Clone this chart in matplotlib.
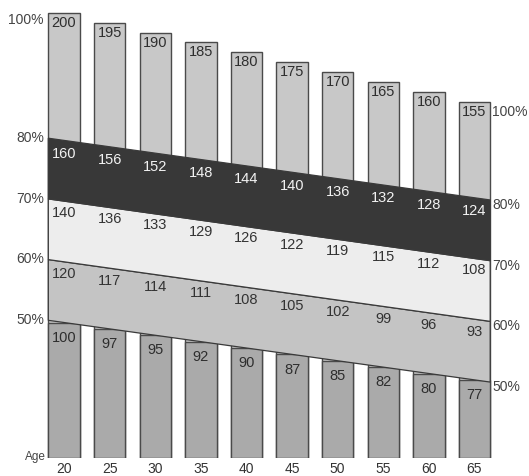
import numpy as np
import matplotlib.pyplot as plt

plt.rcParams['font.family'] = ['Liberation Sans', 'DejaVu Sans']

# Data (beats per minute)
ages = [20, 25, 30, 35, 40, 45, 50, 55, 60, 65]
max_hr = [200, 195, 190, 185, 180, 175, 170, 165, 160, 155]
hr_80 = [160, 156, 152, 148, 144, 140, 136, 132, 128, 124]
hr_70 = [140, 136, 133, 129, 126, 122, 119, 115, 112, 108]
hr_60 = [120, 117, 114, 111, 108, 105, 102, 99, 96, 93]
hr_50 = [100, 97, 95, 92, 90, 87, 85, 82, 80, 77]
zone_pct = [50, 60, 70, 80]

# Drawing geometry (schematic chart: y is "percent of max", tilted with age)
BAND_TILT = 0.21      # drop of the zone lines per year of age
TOP_TILT = 0.3244     # drop of the bar tops per bpm of max heart rate lost
TOP_REF = 101.0
BASE = 27.68
BAR_W = 3.45

ages = np.array(ages)
max_hr = np.array(max_hr)


def zone_line(p, x):
    return p - BAND_TILT * (np.asarray(x) - ages[0])


tops = TOP_REF - TOP_TILT * (max_hr[0] - max_hr)

fig = plt.figure(figsize=(5.29, 4.76), dpi=100)
ax = fig.add_axes([0, 18 / 476, 1, 458 / 476])
ax.set_xlim(12.98, 70.98)
ax.set_ylim(BASE, 103.13)

edge = '#4a4a4a'
# upper (light) bars
ax.bar(ages, tops - BASE, bottom=BASE, width=BAR_W, color='#c8c8c8',
       edgecolor=edge, linewidth=1.0, zorder=1)
# lower (darker) bars up to the 50% line
ax.bar(ages, zone_line(50, ages) - BASE, bottom=BASE, width=BAR_W,
       color='#aaaaaa', edgecolor=edge, linewidth=1.0, zorder=2)

# zone bands
xl, xr = ages[0] - BAR_W / 2, ages[-1] + BAR_W / 2
band_colors = {50: '#c4c4c4', 60: '#ededed', 70: '#383838'}
for lo in [50, 60, 70]:
    hi = lo + 10
    xs = [xl, xr, xr, xl]
    ys = [zone_line(lo, xl), zone_line(lo, xr), zone_line(hi, xr), zone_line(hi, xl)]
    ax.fill(xs, ys, facecolor=band_colors[lo], edgecolor='#3a3a3a',
            linewidth=0.9, zorder=3)

num_kw = dict(ha='center', va='center', fontsize=10.5, zorder=5)

# max HR labels
for a, t, v in zip(ages, tops, max_hr):
    ax.text(a, t - 1.65, str(v), color='#2e2e2e', **num_kw)

# zone labels
zone_rows = [(hr_80, 80, 2.2, '#f2f2f2'), (hr_70, 70, 1.9, '#333333'),
             (hr_60, 60, 2.05, '#333333'), (hr_50, 50, 2.5, '#2e2e2e')]
for vals, p, off, col in zone_rows:
    for a, v in zip(ages, vals):
        ax.text(a, zone_line(p, a) - off, str(v), color=col, **num_kw)

# percent labels, left and right
lab_kw = dict(va='center', fontsize=10, color='#444444')
ax.text(17.8, 99.8, '100%', ha='right', **lab_kw)
ax.text(66.95, tops[-1] - 1.7, '100%', ha='left', **lab_kw)
for p in sorted(zone_pct, reverse=True):
    ax.text(17.8, p + 0.4, f'{p}%', ha='right', **lab_kw)
    ax.text(66.95, zone_line(p, xr) - 0.8, f'{p}%', ha='left', **lab_kw)

ax.text(18.0, BASE + 0.1, 'Age', ha='right', va='center', fontsize=8.5,
        color='#444444')

ax.set_xticks(ages)
ax.set_xticklabels([str(a) for a in ages], fontsize=10, color='#333333')
ax.tick_params(axis='x', length=0, pad=3.0)
ax.set_yticks([])
for s in ax.spines.values():
    s.set_visible(False)

fig.savefig('out.png', dpi=100)
